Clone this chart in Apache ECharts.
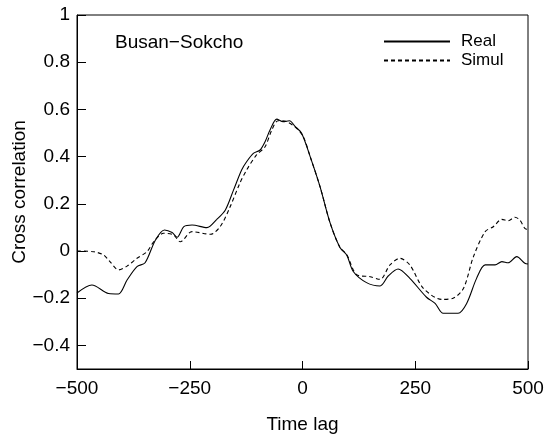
<!DOCTYPE html>
<html><head><meta charset="utf-8">
<script src="https://cdn.jsdelivr.net/npm/echarts@6/dist/echarts.min.js"></script>
<style>html,body{margin:0;padding:0;background:#fff}#c{width:551px;height:439px}</style>
</head><body><div id="c"></div>
<script>
const realLag = [-500,-467,-430,-408,-389,-367,-349,-326,-306,-289,-278,-263,-245,-212,-190,-171,-153,-135,-124,-109,-94,-83,-72,-57,-43,-29,-16,-2,17,39,61,83,98,113,142,172,190,212,238,275,294,312,345,364,386,405,427,442,456,475,493,500];
const realVal = [-0.178,-0.144,-0.18,-0.182,-0.123,-0.066,-0.05,0.047,0.089,0.078,0.058,0.103,0.11,0.099,0.134,0.174,0.258,0.343,0.378,0.414,0.428,0.463,0.513,0.559,0.548,0.552,0.527,0.499,0.40,0.272,0.12,0.015,-0.017,-0.088,-0.134,-0.148,-0.106,-0.076,-0.116,-0.196,-0.222,-0.264,-0.264,-0.222,-0.116,-0.059,-0.059,-0.045,-0.05,-0.024,-0.052,-0.055];
const simLag = [-500,-463,-441,-427,-408,-389,-367,-345,-330,-308,-286,-271,-245,-204,-182,-161,-139,-124,-102,-83,-68,-54,-35,-13,2,17,39,61,83,98,120,150,172,194,216,238,268,309,334,357,379,405,423,442,456,471,482,493,500];
const simVal = [0.0,-0.003,-0.017,-0.045,-0.08,-0.064,-0.031,-0.003,0.039,0.075,0.068,0.039,0.082,0.071,0.105,0.185,0.287,0.343,0.407,0.442,0.513,0.552,0.548,0.52,0.484,0.40,0.272,0.12,0.015,-0.015,-0.10,-0.109,-0.12,-0.059,-0.031,-0.059,-0.158,-0.205,-0.2,-0.158,-0.024,0.082,0.103,0.134,0.128,0.143,0.131,0.096,0.09];
const yTicks = [-0.4,-0.2,0,0.2,0.4,0.6,0.8,1];
const xTicks = [-500,-250,0,250,500];
const seriesNames = ['Real','Simul'];
const label = 'Busan\u2212Sokcho';
const yName = 'Cross correlation';
const xName = 'Time lag';

const font = 'Liberation Sans';
const chart = echarts.init(document.getElementById('c'));
const fmt = v => { const s = String(Math.round(v*10)/10); return s.replace('-', '\u2212'); };
chart.setOption({
  animation: false,
  grid: {left: 77, right: 23, top: 15, bottom: 70, show: true, borderColor: '#000', borderWidth: 1, outerBoundsMode: 'none', containLabel: false},
  title: {text: label, left: 110, top: 28, textStyle: {fontFamily: font, fontSize: 19, fontWeight: 'normal', color: '#000'}},
  graphic: [{
    type: 'text', x: 20, y: 192, rotation: Math.PI / 2,
    style: {text: yName, fontFamily: font, fontSize: 19, fill: '#000', align: 'center', verticalAlign: 'middle'}
  }],
  legend: {
    data: seriesNames,
    orient: 'vertical', left: 383, top: 33, itemWidth: 66, itemHeight: 16, itemGap: 2, padding: 0,
    itemStyle: {opacity: 0},
    textStyle: {fontFamily: font, fontSize: 17, color: '#000', padding: [0,0,0,6]}
  },
  xAxis: {
    type: 'value', min: -500, max: 500, interval: 250,
    name: xName, nameLocation: 'middle', nameGap: 46,
    nameTextStyle: {fontFamily: font, fontSize: 19, color: '#000'},
    axisLine: {onZero: false, lineStyle: {color: '#000'}},
    axisTick: {inside: true, length: 8, lineStyle: {color: '#000'}},
    axisLabel: {fontFamily: font, fontSize: 19, color: '#000', margin: 10, formatter: v => String(v).replace('-', '\u2212')},
    splitLine: {show: false}
  },
  yAxis: {
    type: 'value', min: -0.5, max: 1, interval: 0.1,
    axisLine: {show: true, onZero: false, lineStyle: {color: '#000'}},
    axisTick: {inside: true, length: 9, customValues: yTicks, lineStyle: {color: '#000'}},
    axisLabel: {fontFamily: font, fontSize: 19, color: '#000', margin: 7, customValues: yTicks, formatter: fmt},
    splitLine: {show: false}
  },
  series: [
    {name: seriesNames[0], type: 'line', data: realLag.map((x,i)=>[x, realVal[i]]), symbol: 'none', smooth: 0.3,
     lineStyle: {color: '#000', width: 1.1}, itemStyle: {color: '#000'}},
    {name: seriesNames[1], type: 'line', data: simLag.map((x,i)=>[x, simVal[i]]), symbol: 'none', smooth: 0.3,
     lineStyle: {color: '#000', width: 1.1, type: [4,3]}, itemStyle: {color: '#000'}}
  ]
});
</script></body></html>
